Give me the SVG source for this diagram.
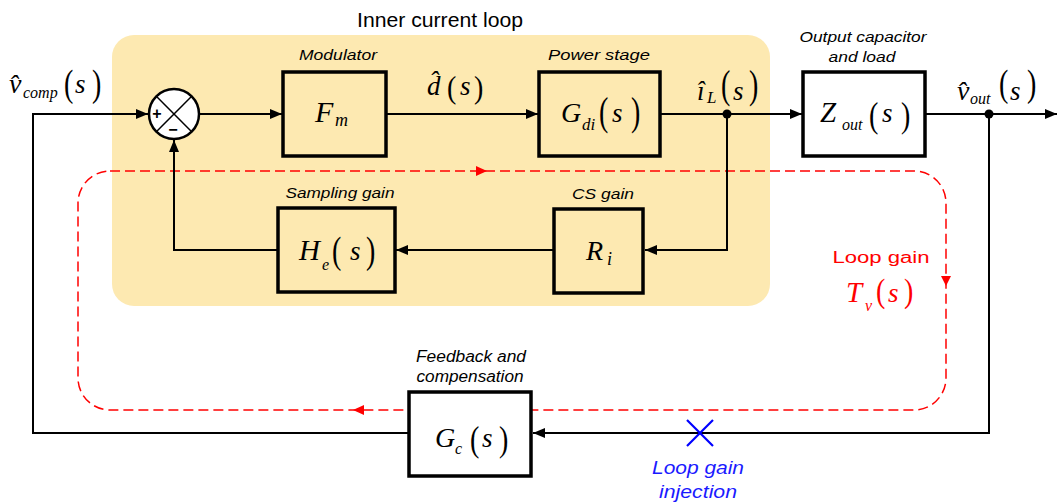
<svg xmlns="http://www.w3.org/2000/svg" width="1057" height="503" viewBox="0 0 1057 503">
<defs>
<style>
.box{fill:none;stroke:#000;stroke-width:3.5}
.wbox{fill:#fff;stroke:#000;stroke-width:3.5}
.ln{fill:none;stroke:#000;stroke-width:2}
.lbl{font-family:"Liberation Sans",Arial,sans-serif;font-style:italic;font-size:15px;fill:#000}
.mi{font-family:"Liberation Serif","Times New Roman",serif;font-style:italic;font-size:27px}
.sb{font-family:"Liberation Serif","Times New Roman",serif;font-style:italic;font-size:17px}
.pp{font-family:"Liberation Serif","Times New Roman",serif;font-style:normal;font-size:28px}
.red{fill:#f00}
</style>
<marker id="ah" markerUnits="userSpaceOnUse" markerWidth="13" markerHeight="11" refX="12" refY="5" orient="auto">
<path d="M0,0 L12,5 L0,10 z" fill="#000"/>
</marker>
</defs>
<rect x="0" y="0" width="1057" height="503" fill="#fff"/>
<rect id="inner-loop" x="112" y="35" width="658" height="271" rx="22" fill="#FDE9B1"/>
<text x="440" y="27" text-anchor="middle" textLength="166" lengthAdjust="spacingAndGlyphs" style="font-family:'Liberation Sans',Arial,sans-serif;font-size:20px">Inner current loop</text>

<g id="loop-gain-path">
<rect x="78" y="171" width="868" height="239" rx="32" fill="none" stroke="#f00" stroke-width="1.5" stroke-dasharray="10 5"/>
<path class="red" d="M476,166 L487,171 L476,176 z"/>
<path class="red" d="M941,276 L951,276 L946,286 z"/>
<path class="red" d="M364,405 L353,410 L364,415 z"/>
</g>

<g id="connectors">
<path class="ln" d="M409,433 H33 V114 H148" marker-end="url(#ah)"/>
<path class="ln" d="M199,114 H282" marker-end="url(#ah)"/>
<path class="ln" d="M386,114 H538" marker-end="url(#ah)"/>
<path class="ln" d="M660,114 H802" marker-end="url(#ah)"/>
<path class="ln" d="M925,114 H1057" marker-end="url(#ah)"/>
<path class="ln" d="M727,114 V250 H645" marker-end="url(#ah)"/>
<path class="ln" d="M554,250 H396" marker-end="url(#ah)"/>
<path class="ln" d="M278,250 H174 V140" marker-end="url(#ah)"/>
<path class="ln" d="M989,114 V433 H533" marker-end="url(#ah)"/>
<circle cx="727" cy="114" r="4.5" fill="#000"/>
<circle cx="989" cy="114" r="4.5" fill="#000"/>
</g>

<g id="sum">
<circle cx="174" cy="114" r="25" fill="#fff" stroke="#000" stroke-width="2.5"/>
<path d="M156.3,96.3 L191.7,131.7 M191.7,96.3 L156.3,131.7" stroke="#000" stroke-width="1.5"/>
<text x="157" y="119" text-anchor="middle" style="font-family:'Liberation Sans',Arial,sans-serif;font-size:16px;font-weight:bold">+</text>
<text x="173" y="135" text-anchor="middle" style="font-family:'Liberation Sans',Arial,sans-serif;font-size:16px;font-weight:bold">−</text>
</g>

<g id="modulator">
<rect class="box" x="283" y="72" width="103" height="84"/>
<text class="lbl" x="338" y="60" text-anchor="middle" textLength="78" lengthAdjust="spacingAndGlyphs">Modulator</text>
<text><tspan class="mi" x="315" y="122" style="font-size:30px">F</tspan><tspan class="sb" x="335" y="126" style="font-size:18px">m</tspan></text>
</g>

<g id="power-stage">
<rect class="box" x="539" y="72" width="121" height="84"/>
<text class="lbl" x="599" y="60" text-anchor="middle" textLength="102" lengthAdjust="spacingAndGlyphs">Power stage</text>
<text><tspan class="mi" x="561" y="122" style="font-size:28px">G</tspan><tspan class="sb" x="582" y="130">di</tspan><tspan class="mi" x="612" y="122">s</tspan></text>
<text class="pp" transform="translate(599,125) scale(1,1.45)">(</text>
<text class="pp" transform="translate(631,125) scale(1,1.45)">)</text>
</g>

<g id="output-impedance">
<rect class="wbox" x="803" y="72" width="122" height="84"/>
<text class="lbl" x="863" y="42" text-anchor="middle" textLength="127" lengthAdjust="spacingAndGlyphs">Output capacitor</text>
<text class="lbl" x="862" y="62" text-anchor="middle" textLength="67" lengthAdjust="spacingAndGlyphs">and load</text>
<text><tspan class="mi" x="820" y="122" style="font-size:29px">Z</tspan><tspan class="sb" x="842" y="130" style="font-size:16px">out</tspan><tspan class="mi" x="882" y="122">s</tspan></text>
<text class="pp" transform="translate(869,126.8) scale(1,1.26)">(</text>
<text class="pp" transform="translate(901,126.8) scale(1,1.26)">)</text>
</g>

<g id="cs-gain">
<rect class="box" x="554" y="209" width="89" height="84"/>
<text class="lbl" x="603" y="199" text-anchor="middle" textLength="62" lengthAdjust="spacingAndGlyphs">CS gain</text>
<text><tspan class="mi" x="586" y="260" style="font-size:28px">R</tspan><tspan class="sb" x="607" y="265" style="font-size:18px">i</tspan></text>
</g>

<g id="sampling-gain">
<rect class="box" x="278" y="208" width="117" height="84"/>
<text class="lbl" x="340" y="198" text-anchor="middle" textLength="109" lengthAdjust="spacingAndGlyphs">Sampling gain</text>
<text><tspan class="mi" x="299" y="260" style="font-size:29px">H</tspan><tspan class="sb" x="322" y="270" style="font-size:16px">e</tspan><tspan class="mi" x="350" y="260">s</tspan></text>
<text class="pp" transform="translate(332,263.4) scale(1,1.34)">(</text>
<text class="pp" transform="translate(366,263.4) scale(1,1.34)">)</text>
</g>

<g id="compensator">
<rect class="wbox" x="409" y="392" width="122" height="84"/>
<text class="lbl" x="471" y="362" text-anchor="middle" textLength="110" lengthAdjust="spacingAndGlyphs" style="font-size:16px">Feedback and</text>
<text class="lbl" x="470" y="382" text-anchor="middle" textLength="107" lengthAdjust="spacingAndGlyphs" style="font-size:16px">compensation</text>
<text><tspan class="mi" x="435" y="447" style="font-size:28px">G</tspan><tspan class="sb" x="455" y="454" style="font-size:16px">c</tspan><tspan class="mi" x="482" y="447">s</tspan></text>
<text class="pp" transform="translate(470,450.8) scale(1,1.26)">(</text>
<text class="pp" transform="translate(499,450.8) scale(1,1.26)">)</text>
</g>

<g id="signals">
<text><tspan class="mi" x="9" y="93" style="font-size:28px">v&#x302;</tspan><tspan class="sb" x="23" y="98" style="font-size:16px">comp</tspan><tspan class="mi" x="75" y="93">s</tspan></text>
<text class="pp" transform="translate(64,96.2) scale(1,1.38)">(</text>
<text class="pp" transform="translate(92,96.2) scale(1,1.38)">)</text>
<text><tspan class="mi" x="427" y="95">d&#x302;</tspan><tspan class="mi" x="460" y="95">s</tspan></text>
<text class="pp" transform="translate(447,97.6) scale(1,1.09)">(</text>
<text class="pp" transform="translate(474,97.6) scale(1,1.09)">)</text>
<text><tspan class="mi" x="697" y="100">î</tspan><tspan class="sb" x="707" y="103">L</tspan><tspan class="mi" x="733" y="100">s</tspan></text>
<text class="pp" transform="translate(721,97.8) scale(1,1.46)">(</text>
<text class="pp" transform="translate(749,97.8) scale(1,1.46)">)</text>
<text><tspan class="mi" x="957" y="100" style="font-size:28px">v&#x302;</tspan><tspan class="sb" x="970" y="104" style="font-size:16px">out</tspan><tspan class="mi" x="1010" y="100">s</tspan></text>
<text class="pp" transform="translate(999,96.2) scale(1,1.38)">(</text>
<text class="pp" transform="translate(1027,96.2) scale(1,1.38)">)</text>
</g>

<g id="loop-gain-label" fill="#f00">
<text x="881" y="263" text-anchor="middle" textLength="97" lengthAdjust="spacingAndGlyphs" style="font-family:'Liberation Sans',Arial,sans-serif;font-size:16px">Loop gain</text>
<text fill="#f00"><tspan class="mi" x="846" y="302" style="font-size:29px">T</tspan><tspan class="sb" x="865" y="311" style="font-size:16px">v</tspan><tspan class="mi" x="888" y="302">s</tspan></text>
<text class="pp" fill="#f00" transform="translate(876,302.2) scale(1,1.17)">(</text>
<text class="pp" fill="#f00" transform="translate(904,302.2) scale(1,1.17)">)</text>
</g>

<g id="injection">
<path d="M687,420 L713,446 M687,446 L713,420" stroke="#00f" stroke-width="2.2"/>
<text x="698" y="474" text-anchor="middle" textLength="92" lengthAdjust="spacingAndGlyphs" style="font-family:'Liberation Sans',Arial,sans-serif;font-style:italic;font-size:18px;fill:#1a1aff">Loop gain</text>
<text x="698" y="498" text-anchor="middle" textLength="78" lengthAdjust="spacingAndGlyphs" style="font-family:'Liberation Sans',Arial,sans-serif;font-style:italic;font-size:18px;fill:#1a1aff">injection</text>
</g>
</svg>
